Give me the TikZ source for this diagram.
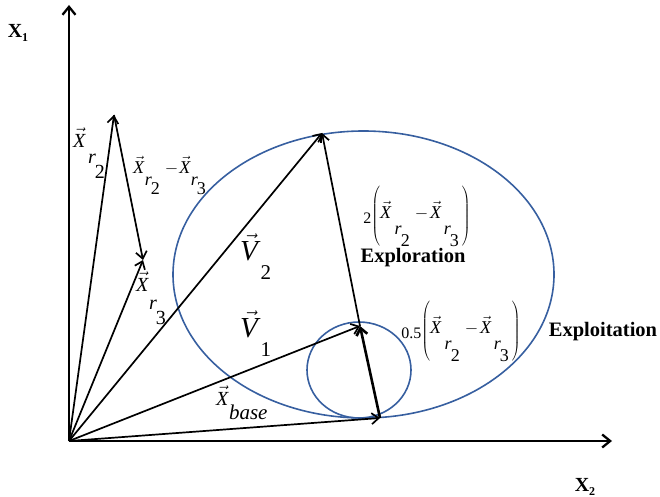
\documentclass[tikz,border=0pt]{standalone}
\usepackage{fontspec}
\setmainfont{Liberation Serif}
\usetikzlibrary{arrows.meta}
\definecolor{ellblue}{RGB}{55,95,160}
\newcommand\vX{$\vec{\hbox{\textit{X}}}$}
\newcommand\XR[4][0pt]{\mbox{\vX\kern#1\raisebox{-#3}{\textit{r}\kern-1pt\raisebox{-#4}{#2}}}}
\newcommand\PX{\hbox{\XR[3pt]{2}{16pt}{12pt}\hspace{5pt}$-$\hspace{2pt}\XR[2pt]{3}{16pt}{12pt}\hspace{3pt}\rule[-29pt]{0pt}{62pt}}}
\begin{document}
\begin{tikzpicture}[x=1pt,y=-1pt,
 vec/.style={line width=1.7pt, -{Straight Barb[length=7pt,width=11pt]}},
 axis/.style={line width=2.3pt, -{Straight Barb[length=8pt,width=13pt]}},
 ell/.style={ellblue, line width=1.6pt},
 lbl/.style={inner sep=0pt, font=\fontsize{20}{24}\selectfont},
 txt/.style={inner sep=0pt, font=\fontsize{20.5}{24}\selectfont\bfseries},
 expr/.style={inner sep=0pt, font=\fontsize{18}{22}\selectfont},
]
\useasboundingbox (0,0) rectangle (660,497);
\coordinate (O) at (69,441);
\coordinate (Y) at (69,5);
\coordinate (Xe) at (612,441);
\coordinate (R2) at (114,115);
\coordinate (R3) at (143,260);
\coordinate (V2) at (322,133);
\coordinate (V1) at (360,326);
\coordinate (B) at (380,418);
\coordinate (C1) at (363.5,274.5);
\coordinate (C2) at (359,370);
% ellipses
\draw[ell] (C1) ellipse [x radius=190.5pt, y radius=143.5pt];
\draw[ell] (C2) ellipse [x radius=52pt, y radius=48pt];
% axes
\draw[axis] (O) -- (Y);
\draw[axis] (O) -- (Xe);
% vectors
\draw[vec] (O) -- (R2);
\draw[vec] (O) -- (R3);
\draw[vec] (R2) -- (R3);
\draw[vec] (O) -- (V2);
\draw[vec] (O) -- (V1);
\draw[vec] (O) -- (B);
\draw[vec] (V1) -- (V2);
\draw[vec, line width=2.6pt] (B) -- (V1);
% axis labels
\node[inner sep=0pt, font=\fontsize{20}{24}\selectfont\bfseries] (x1) at (18,33) {X\raisebox{-4pt}{\fontsize{12}{14}\selectfont 1}};
\node[inner sep=0pt, font=\fontsize{20}{24}\selectfont\bfseries] (x2) at (585,487) {X\raisebox{-4pt}{\fontsize{12}{14}\selectfont 2}};
% vector labels
\node[lbl, anchor=base west] (lr2) at (73,147) {\XR[2pt]{2}{16pt}{15pt}};
\node[lbl, anchor=base west] (lr3) at (136,291) {\XR{3}{18pt}{15pt}};
\node[expr, anchor=base west] (ldiff) at (133,173) {\XR{2}{12pt}{9pt}\hspace{5pt}$-$\hspace{1pt}\XR{3}{12pt}{9pt}};
\node[inner sep=0pt, anchor=base west, font=\fontsize{29}{30}\selectfont] (lv2) at (240,260) {$\vec{\hbox{\textit{V}}}$\raisebox{-19pt}{\fontsize{21}{24}\selectfont 2}};
\node[inner sep=0pt, anchor=base west, font=\fontsize{29}{30}\selectfont] (lv1) at (240,337) {$\vec{\hbox{\textit{V}}}$\raisebox{-19pt}{\fontsize{21}{24}\selectfont 1}};
\node[lbl, anchor=base west] (lbase) at (216,405) {\vX\raisebox{-14pt}{\fontsize{21}{24}\selectfont\textit{base}}};
% expressions
\node[expr] (e2) at (417,216) {\raisebox{-3pt}{\fontsize{16}{18}\selectfont 2}$\left(\vcenter{\PX}\right)$};
\node[txt] (lexplor) at (413,258) {Exploration};
\node[expr] (e05) at (461,331) {\raisebox{-3pt}{\fontsize{16}{18}\selectfont 0.5}$\left(\vcenter{\PX}\right)$};
\node[txt] (lexploit) at (603,332) {Exploitation};
\end{tikzpicture}
\end{document}
